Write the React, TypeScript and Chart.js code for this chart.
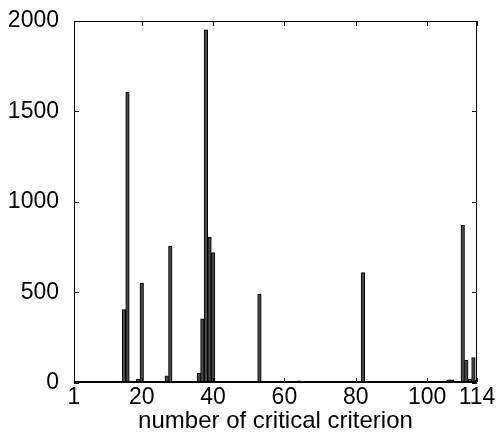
import React, { useEffect, useRef } from "react";
import { Chart, registerables } from "chart.js";

Chart.register(...registerables);

// criterion numbers and counts (non-zero bars)
const criterionNumbers = [6, 7, 9, 14, 15, 16, 19, 20, 27, 28, 35, 36, 37, 38, 39, 40, 53, 54, 64, 65, 66, 70, 82, 85, 91, 103, 105, 106, 107, 110, 111, 112, 113, 114];
const criterionCounts = [2, 2, 5, 11, 405, 1605, 22, 550, 40, 755, 3, 55, 355, 1950, 805, 720, 490, 9, 12, 6, 5, 2, 610, 3, 3, 3, 5, 18, 18, 870, 125, 20, 140, 15];
const xTickValues = [1, 20, 40, 60, 80, 100, 114];
const yTickValues = [0, 500, 1000, 1500, 2000];
const xTitle = "number of critical criterion";

const FONT = "'Liberation Sans', Arial, Helvetica, sans-serif";

const boxPlugin = {
  id: "boxTicks",
  afterDraw(chart: any) {
    const ctx = chart.ctx;
    const { left, right, top, bottom } = chart.chartArea;
    const xs = chart.scales.x;
    const ys = chart.scales.y;
    const tl = 4;
    const L = Math.round(left);
    const R = Math.round(right) - 1;
    const T = Math.round(top);
    const B = Math.round(bottom) - 1;
    ctx.save();
    ctx.fillStyle = "#000000";
    ctx.fillRect(L, T, R - L + 1, 1);
    ctx.fillRect(L, B - 1, R - L + 1, 2);
    ctx.fillRect(L, T, 1, B - T + 1);
    ctx.fillRect(R, T, 1, B - T + 1);
    xTickValues.forEach((v) => {
      const px = Math.round(xs.getPixelForValue(v));
      ctx.fillRect(px, B - tl, 1, tl);
      ctx.fillRect(px, T, 1, tl + 1);
    });
    yTickValues.forEach((v) => {
      const py = Math.round(ys.getPixelForValue(v));
      ctx.fillRect(L, py, tl + 1, 1);
      ctx.fillRect(R - tl, py, tl + 1, 1);
    });
    // x tick labels
    ctx.font = `23px ${FONT}`;
    ctx.textAlign = "center";
    ctx.textBaseline = "middle";
    xTickValues.forEach((v) => {
      ctx.fillText(String(v), xs.getPixelForValue(v), bottom + 15);
    });
    ctx.restore();
  },
};

export default function App() {
  const ref = useRef<HTMLCanvasElement>(null);
  useEffect(() => {
    const canvas = ref.current;
    if (!canvas) return;
    const points = criterionNumbers.map((x, i) => ({ x, y: criterionCounts[i] }));
    const chart = new Chart(canvas, {
      type: "bar",
      data: {
        datasets: [
          {
            data: points as any,
            backgroundColor: "#474747",
            borderColor: "#000",
            borderWidth: 1,
            borderSkipped: false,
            barPercentage: 1,
            categoryPercentage: 1,
          },
        ],
      },
      options: {
        animation: false,
        responsive: false,
        maintainAspectRatio: false,
        layout: { padding: { left: 0, top: 20, right: 24, bottom: 0 } },
        plugins: { legend: { display: false }, tooltip: { enabled: false } },
        scales: {
          x: {
            type: "linear",
            offset: false,
            min: 1,
            max: 114,
            grid: { display: false },
            border: { display: false },
            afterBuildTicks: (s: any) => {
              s.ticks = xTickValues.map((v) => ({ value: v }));
            },
            afterFit: (s: any) => {
              s.height = 60;
            },
            ticks: { display: false },
            title: {
              display: true,
              text: xTitle,
              color: "#000",
              font: { family: FONT, size: 24 },
              padding: { top: 0, bottom: 7 },
            },
          },
          y: {
            type: "linear",
            min: 0,
            max: 2000,
            grid: { display: false },
            border: { display: false },
            afterBuildTicks: (s: any) => {
              s.ticks = yTickValues.map((v) => ({ value: v }));
            },
            afterFit: (s: any) => {
              s.width = 74;
            },
            ticks: {
              color: "#000",
              padding: 7,
              font: { family: FONT, size: 23 },
              format: { useGrouping: false },
            },
          },
        },
      },
      plugins: [boxPlugin],
    });
    return () => chart.destroy();
  }, []);
  return (
    <div style={{ position: "absolute", left: 0, top: 0, width: 501, height: 443, background: "#fff" }}>
      <canvas ref={ref} width={501} height={443} style={{ width: 501, height: 443, display: "block" }} />
    </div>
  );
}
